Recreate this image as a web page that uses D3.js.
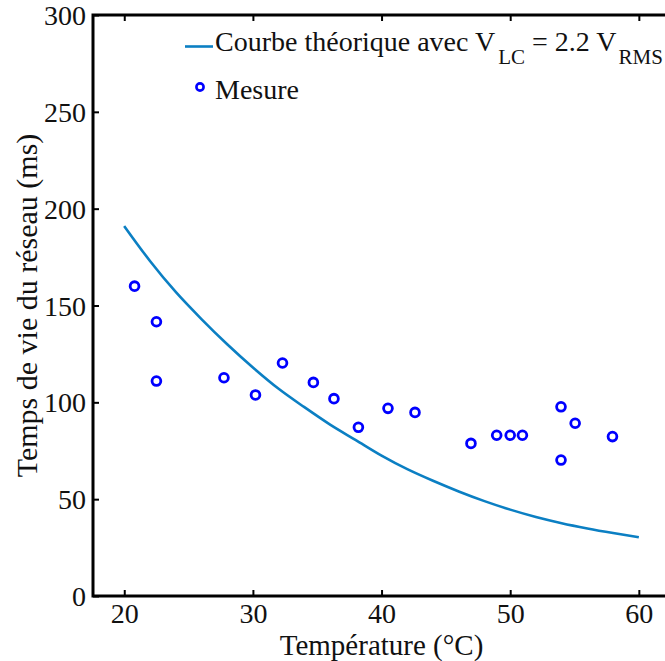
<!DOCTYPE html>
<html lang="fr">
<head>
    <meta charset="UTF-8">
    <title>Temps de vie du réseau</title>
    <style>
        body {
            margin: 0;
            padding: 0;
            background-color: #fff;
        }
        svg text {
            font-family: 'Liberation Serif', 'Times New Roman', serif;
            fill: #111;
        }
        .tick line {
            stroke: #000;
            stroke-width: 2px;
        }
    </style>
</head>
<body>
    <svg id="chart" width="665" height="661"></svg>

    <script src="https://cdn.jsdelivr.net/npm/d3@7"></script>
    <script>
// Mesures (température en °C, temps de vie en ms)
const mesureTemp = [20.8, 22.5, 22.5, 27.75, 30.2, 32.3, 34.7, 36.3, 38.2, 40.5,
                    42.6, 46.95, 48.95, 50.0, 50.95, 53.95, 53.95, 55.05, 57.95];
const mesureTemps = [160, 141.6, 111, 112.7, 103.8, 120.3, 110.3, 101.9, 87.1, 96.9,
                     94.8, 78.8, 83, 83, 83, 97.7, 70.2, 89.2, 82.3];

// Courbe théorique (V_LC = 2.2 V_RMS)
const courbeTemp = [20, 22, 24, 26, 28, 30, 32, 34, 36, 38, 40,
                    42, 44, 46, 48, 50, 52, 54, 56, 58, 60];
const courbeTemps = [191, 173, 157, 143, 130, 118, 107, 97.5, 88.5, 80.5, 72.5,
                     65.5, 59.5, 54, 49, 44.6, 40.8, 37.6, 34.9, 32.5, 30.3];

const xTicks = [20, 30, 40, 50, 60];
const yTicks = [0, 50, 100, 150, 200, 250, 300];

const svg = d3.select("#chart");

// plot box (right edge is outside the picture, like the original)
const boxLeft = 93, boxRight = 671, boxTop = 15, boxBottom = 596;

const x = d3.scaleLinear().domain([17.57, 62.5]).range([boxLeft, boxRight]);
const y = d3.scaleLinear().domain([0, 300]).range([boxBottom, boxTop]);

const blue = "#0b7fc3";

// axes with inward ticks
const gx = svg.append("g")
    .attr("transform", `translate(0,${boxBottom})`)
    .call(d3.axisBottom(x).tickValues(xTicks).tickSizeInner(-6).tickSizeOuter(0));
gx.selectAll("text")
    .attr("y", 27)
    .attr("dy", null)
    .style("font-size", "28px");

svg.append("g")
    .attr("transform", `translate(0,${boxTop})`)
    .call(d3.axisTop(x).tickValues(xTicks).tickSizeInner(-6).tickSizeOuter(0).tickFormat(""));

const gy = svg.append("g")
    .attr("transform", `translate(${boxLeft},0)`)
    .call(d3.axisLeft(y).tickValues(yTicks).tickSizeInner(-6).tickSizeOuter(0).tickPadding(7));
gy.selectAll("text")
    .attr("dy", "0.34em")
    .style("font-size", "28px");

svg.append("g")
    .attr("transform", `translate(${boxRight},0)`)
    .call(d3.axisRight(y).tickValues(yTicks).tickSizeInner(-6).tickSizeOuter(0).tickFormat(""));

svg.selectAll(".domain").remove();

// frame
svg.append("rect")
    .attr("x", boxLeft)
    .attr("y", boxTop)
    .attr("width", boxRight - boxLeft)
    .attr("height", boxBottom - boxTop)
    .attr("fill", "none")
    .attr("stroke", "#000")
    .attr("stroke-width", 3);

// theoretical curve
const line = d3.line()
    .x((d, i) => x(courbeTemp[i]))
    .y(d => y(d))
    .curve(d3.curveMonotoneX);

svg.append("path")
    .datum(courbeTemps)
    .attr("d", line)
    .attr("fill", "none")
    .attr("stroke", blue)
    .attr("stroke-width", 2.6);

// measurements
svg.append("g")
    .selectAll("circle")
    .data(mesureTemps)
    .join("circle")
    .attr("cx", (d, i) => x(mesureTemp[i]))
    .attr("cy", d => y(d))
    .attr("r", 4.4)
    .attr("fill", "none")
    .attr("stroke", "#0000ff")
    .attr("stroke-width", 2.8);

// axis titles
svg.append("text")
    .attr("x", x(40))
    .attr("y", 655)
    .attr("text-anchor", "middle")
    .style("font-size", "29px")
    .text("Température (°C)");

svg.append("text")
    .attr("transform", `translate(37,${(boxTop + boxBottom) / 2}) rotate(-90)`)
    .attr("text-anchor", "middle")
    .style("font-size", "30px")
    .text("Temps de vie du réseau (ms)");

// legend
const legend = svg.append("g");

legend.append("line")
    .attr("x1", 185).attr("x2", 213)
    .attr("y1", 46.5).attr("y2", 46.5)
    .attr("stroke", blue)
    .attr("stroke-width", 2.6);

const lt = legend.append("text")
    .attr("x", 215)
    .attr("y", 51)
    .style("font-size", "28px");
lt.append("tspan").text("Courbe théorique avec V");
lt.append("tspan").attr("dx", 3).attr("dy", 13).style("font-size", "21px").text("LC");
lt.append("tspan").attr("dy", -13).text(" = 2.2 V");
lt.append("tspan").attr("dx", 2).attr("dy", 13).style("font-size", "21px").text("RMS");

legend.append("circle")
    .attr("cx", 200)
    .attr("cy", 87)
    .attr("r", 3.6)
    .attr("fill", "none")
    .attr("stroke", "#0000ff")
    .attr("stroke-width", 2.6);

legend.append("text")
    .attr("x", 215)
    .attr("y", 99)
    .style("font-size", "28px")
    .text("Mesure");
    </script>
</body>
</html>
